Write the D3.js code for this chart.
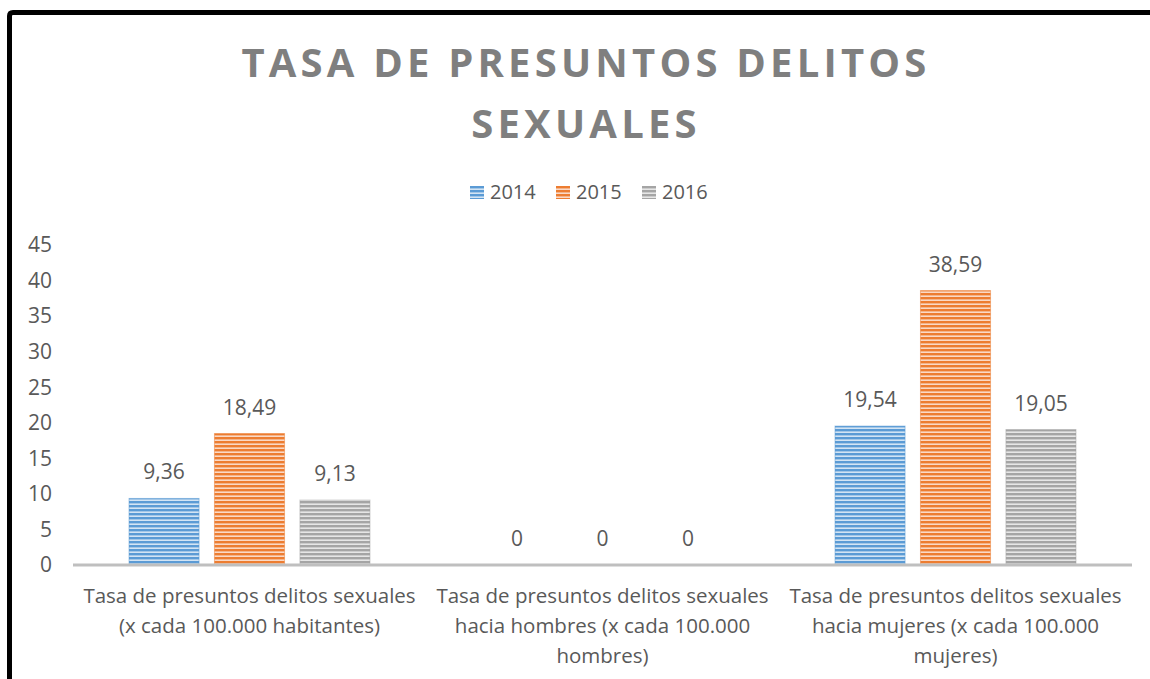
<!DOCTYPE html>
<html>
<head>
<meta charset="utf-8">
<script src="https://cdn.jsdelivr.net/npm/d3@7"></script>
<style>
  body { margin: 0; background: #fff; }
  text { font-family: "Open Sans", sans-serif; fill: #595959; }
</style>
</head>
<body>
<div id="chart"></div>
<script>
// Data
const categories = [
  ["Tasa de presuntos delitos sexuales", "(x cada 100.000 habitantes)"],
  ["Tasa de presuntos delitos sexuales", "hacia hombres (x cada 100.000", "hombres)"],
  ["Tasa de presuntos delitos sexuales", "hacia mujeres (x cada 100.000", "mujeres)"]
];
const years = ["2014", "2015", "2016"];
const values2014 = [9.36, 0, 19.54];
const values2015 = [18.49, 0, 38.59];
const values2016 = [9.13, 0, 19.05];
const yTicks = [0, 5, 10, 15, 20, 25, 30, 35, 40, 45];

const colors = { "2014": "#5b9bd5", "2015": "#ed7d31", "2016": "#a5a5a5" };
const lightColors = { "2014": "#d3e4f4", "2015": "#fad9c6", "2016": "#e6e6e6" };
const series = [values2014, values2015, values2016];

const W = 1150, H = 679;
const margin = { top: 245, right: 18, bottom: 114, left: 73 };
const width = W - margin.left - margin.right;
const height = H - margin.top - margin.bottom;

const svg = d3.select("#chart").append("svg").attr("width", W).attr("height", H);

// striped fills
const defs = svg.append("defs");
years.forEach((yr) => {
  const p = defs.append("pattern")
    .attr("id", "stripe-" + yr)
    .attr("patternUnits", "userSpaceOnUse")
    .attr("width", 8).attr("height", 4);
  p.append("rect").attr("width", 8).attr("height", 4).attr("fill", lightColors[yr]);
  p.append("rect").attr("width", 8).attr("height", 2.4).attr("fill", colors[yr]);
});

// outer black frame (runs off the right and bottom edges)
svg.append("path")
  .attr("d", `M9.5,${H + 10} L9.5,16 Q9.5,12.5 13,12.5 L${W + 10},12.5`)
  .attr("fill", "none").attr("stroke", "#000").attr("stroke-width", 5);

// title
const title = svg.append("text")
  .attr("text-anchor", "middle")
  .style("font-size", "40px").style("font-weight", "bold")
  .style("letter-spacing", "4.2px").style("fill", "#7f7f7f");
title.append("tspan").attr("x", 586).attr("y", 77).text("TASA DE PRESUNTOS DELITOS");
title.append("tspan").attr("x", 586).attr("y", 138).text("SEXUALES");

// legend
const legend = svg.append("g").attr("transform", "translate(470,186)");
years.forEach((yr, i) => {
  const g = legend.append("g").attr("transform", `translate(${i * 86},0)`);
  g.append("rect").attr("width", 14).attr("height", 13).attr("fill", `url(#stripe-${yr})`);
  g.append("text").attr("x", 20).attr("y", 13).style("font-size", "20px").text(yr);
});

const plot = svg.append("g").attr("transform", `translate(${margin.left},${margin.top})`);

const x0 = d3.scaleBand().domain(d3.range(categories.length)).range([0, width]);
const x1 = d3.scaleBand().domain(years).range([56, x0.bandwidth() - 56]).paddingInner(0.18);
const y = d3.scaleLinear().domain([0, 45]).range([height, 0]);

// y tick labels (no axis line)
plot.selectAll(".ytick").data(yTicks).enter().append("text")
  .attr("class", "ytick")
  .attr("x", -21).attr("y", (d) => y(d)).attr("dy", "0.35em")
  .attr("text-anchor", "end").style("font-size", "21px")
  .text((d) => d);

// bars
const groups = plot.selectAll(".cat").data(categories).enter().append("g")
  .attr("class", "cat")
  .attr("transform", (d, i) => `translate(${x0(i)},0)`);

groups.each(function (d, i) {
  const g = d3.select(this);
  years.forEach((yr, j) => {
    const v = series[j][i];
    g.append("rect")
      .attr("x", x1(yr)).attr("width", x1.bandwidth())
      .attr("y", y(v)).attr("height", height - y(v))
      .attr("fill", `url(#stripe-${yr})`)
      .attr("stroke", v > 0 ? colors[yr] : "none").attr("stroke-opacity", 0.5);
    g.append("text")
      .attr("x", x1(yr) + x1.bandwidth() / 2)
      .attr("y", y(v) - 19)
      .attr("text-anchor", "middle").style("font-size", "21px")
      .text(d3.format(".2~f")(v).replace(".", ","));
  });
});

// baseline
plot.append("line")
  .attr("x1", 0).attr("x2", width)
  .attr("y1", height).attr("y2", height)
  .attr("stroke", "#bfbfbf").attr("stroke-width", 3);

// category labels
groups.each(function (d) {
  const t = d3.select(this).append("text")
    .attr("text-anchor", "middle").style("font-size", "20.5px");
  d.forEach((line, k) => {
    t.append("tspan").attr("x", x0.bandwidth() / 2).attr("y", height + 38 + k * 30).text(line);
  });
});
</script>
</body>
</html>
